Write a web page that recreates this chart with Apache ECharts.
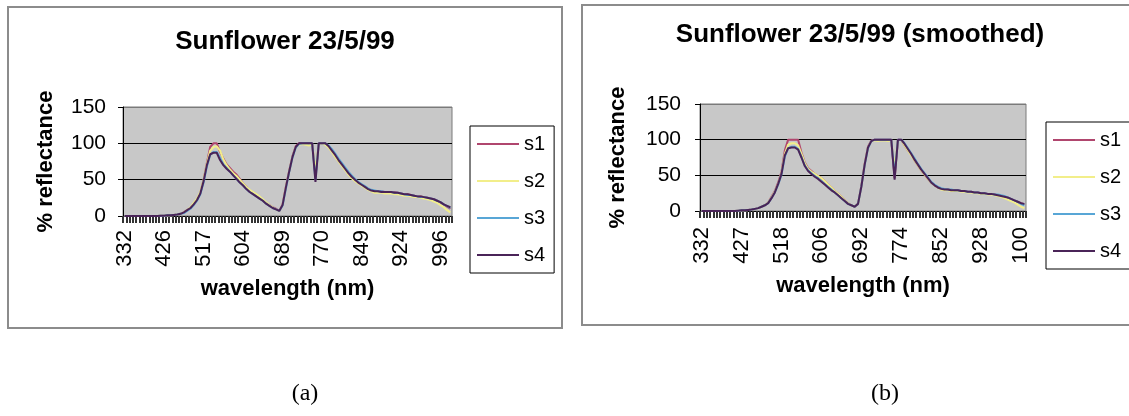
<!DOCTYPE html>
<html>
<head>
<meta charset="utf-8">
<script src="https://cdn.jsdelivr.net/npm/echarts@6/dist/echarts.min.js"></script>
<style>
html, body { margin: 0; padding: 0; background: #fff; }
#main { width: 1129px; height: 416px; }
</style>
</head>
<body>
<div id="main"></div>
<script>
var chartDom = document.getElementById('main');
var myChart = echarts.init(chartDom);
var option;

var seriesNames = ['s1', 's2', 's3', 's4'];
var seriesColors = ['#b0466e', '#f2ee8a', '#58a6d6', '#4a2458'];

// x tick labels (one every 12 categories)
var tickLabelsA = ['332', '426', '517', '604', '689', '770', '849', '924', '996'];
var tickLabelsB = ['332', '427', '518', '606', '692', '774', '852', '928', '100'];
var labelStep = 12;

// (a) raw spectra, % reflectance
var a_s1 = [0,0,0,0,0,0,0,0,0,0,
  0,0.5,0.5,1,1,1.5,2,3,5,8,
  11,17,23,32,50,73,95,100,100,88,
  79,71,66,61,57,51,45,40,35,31,
  28,25,22,18,15,12,10,7,16,40,
  62,82,96,100,100,100,100,100,55,100,
  100,100,95,89,82,76,70,64,58,53,
  49,46,43,40,37,35,34,34,34,33,
  33,33,33,32,31,30,30,29,28,27,
  27,26,25,24,23,21,18,16,13,10];
var a_s2 = [0,0,0,0,0,0,0,0,0,0,
  0,0.5,0.5,1,1,1.5,2,3,5,8,
  12,18,24,33,50,72,90,95,96,90,
  78,70,64,59,55,50,45,40,36,33,
  30,27,23,19,15,12,9,7,15,39,
  61,81,95,98,99,98,97,99,62,99,
  100,98,94,88,81,75,69,63,57,52,
  48,45,42,39,36,34,32,32,32,31,
  31,31,30,30,29,28,28,27,26,26,
  25,24,23,22,20,18,15,12,8,5];
var a_s3 = [0,0,0,0,0,0,0,0,0,0,
  0,0.5,0.5,1,1,1.5,2,3,4,7,
  10,15,21,30,46,68,84,88,88,80,
  71,66,61,56,51,46,42,37,33,30,
  27,24,21,17,14,11,9,7,14,37,
  60,80,94,99,100,100,100,100,50,100,
  100,100,97,92,86,79,73,67,61,56,
  51,47,44,41,38,36,35,34,34,33,
  33,33,32,32,31,30,29,29,28,27,
  26,26,25,24,23,21,19,16,14,11];
var a_s4 = [0,0,0,0,0,0,0,0,0,0,
  0,0.5,0.5,1,1,1.5,2,3,5,8,
  11,16,22,31,48,70,85,87,87,77,
  70,65,61,56,51,46,42,37,33,30,
  27,24,21,17,14,11,9,7,15,39,
  61,81,95,100,100,100,100,100,47,100,
  100,100,96,90,84,77,71,65,59,54,
  50,46,43,40,37,35,34,34,33,33,
  33,33,32,32,31,30,30,29,28,27,
  27,26,25,24,23,21,19,16,14,12];

// (b) smoothed spectra, % reflectance
var b_s1 = [0,0,0,0,0,0,0,0,0,0,
  0,0.5,1,1,1.5,2,3,4,6,8,
  12,20,28,40,55,85,100,100,100,100,
  82,68,60,56,52,49,46,42,37,33,
  28,24,20,15,11,8,6,10,35,66,
  90,99,100,100,100,100,100,100,46,100,
  100,92,85,79,71,64,57,51,45,40,
  36,33,31,30,30,29,29,29,28,28,
  27,27,26,26,25,25,24,24,23,22,
  21,20,18,17,15,13,11,9];
var b_s2 = [0,0,0,0,0,0,0,0,0,0,
  0,0.5,1,1,1.5,2,3,4,6,8,
  12,19,27,38,53,80,93,95,95,92,
  80,67,59,55,52,49,46,42,37,33,
  28,24,20,15,11,8,6,10,34,65,
  89,98,99,98,99,99,98,99,60,99,
  100,92,85,78,71,64,57,51,45,40,
  36,33,30,29,29,28,28,28,27,27,
  26,26,25,25,24,24,23,23,22,21,
  20,18,16,14,12,9,6,4];
var b_s3 = [0,0,0,0,0,0,0,0,0,0,
  0,0.5,1,1,1.5,2,3,4,6,8,
  11,18,26,37,51,76,88,90,90,87,
  76,64,57,53,49,46,42,38,34,30,
  26,22,18,14,10,8,6,10,34,64,
  88,98,100,100,100,100,100,100,50,100,
  100,95,88,81,74,66,59,53,47,41,
  37,34,32,31,30,30,29,29,28,28,
  27,27,26,26,25,25,24,24,23,23,
  22,21,19,17,15,13,10,8];
var b_s4 = [0,0,0,0,0,0,0,0,0,0,
  0,0.5,1,1,1.5,2,3,4,6,8,
  11,18,26,38,52,78,88,89,89,86,
  75,63,56,52,48,45,41,37,33,29,
  26,22,18,14,10,8,6,10,34,65,
  89,98,100,100,100,100,100,100,44,100,
  100,94,87,80,72,65,58,52,46,40,
  36,33,31,30,30,29,29,29,28,28,
  27,27,26,26,25,25,24,24,23,22,
  21,20,19,17,15,13,11,10];

var FONT = 'Liberation Sans, Arial, sans-serif';

function categories(values, labels) {
    return values.map(function (v, i) {
        return i % labelStep === 0 ? (labels[i / labelStep] || '') : '';
    });
}

function lines(list, gi) {
    return list.map(function (d, k) {
        return {
            name: seriesNames[k],
            type: 'line',
            xAxisIndex: gi,
            yAxisIndex: gi,
            data: d,
            symbol: 'none',
            lineStyle: {width: 2, color: seriesColors[k]},
            itemStyle: {color: seriesColors[k]}
        };
    });
}

function xAxisFor(gi, cats, labelMargin, nameGap) {
    return {
        type: 'category',
        gridIndex: gi,
        data: cats,
        boundaryGap: true,
        axisLine: {show: true, onZero: false, lineStyle: {color: '#000', width: 1}},
        axisTick: {show: true, interval: 0, length: 7, lineStyle: {color: '#333', width: 2}},
        axisLabel: {interval: labelStep - 1, rotate: 90, fontSize: 22, margin: labelMargin, color: '#000', fontFamily: FONT},
        splitLine: {show: false},
        name: 'wavelength (nm)',
        nameLocation: 'middle',
        nameGap: nameGap,
        nameTextStyle: {fontSize: 22, fontWeight: 'bold', color: '#000', fontFamily: FONT}
    };
}

function yAxisFor(gi, labelMargin, nameGap) {
    return {
        type: 'value',
        gridIndex: gi,
        min: 0,
        max: 150,
        interval: 50,
        axisLine: {show: true, lineStyle: {color: '#000', width: 1}},
        axisTick: {show: true, length: 5, lineStyle: {color: '#000'}},
        axisLabel: {fontSize: 21, margin: labelMargin, color: '#000', fontFamily: FONT},
        splitLine: {show: true, lineStyle: {color: ['#000', '#000', '#000', '#7a7a7a'], width: 1}},
        name: '% reflectance',
        nameLocation: 'middle',
        nameRotate: 90,
        nameGap: nameGap,
        nameTextStyle: {fontSize: 22, fontWeight: 'bold', color: '#000', fontFamily: FONT}
    };
}

function legendFor(left, top) {
    return {
        orient: 'vertical',
        left: left,
        top: top,
        data: seriesNames,
        icon: 'rect',
        itemWidth: 42,
        itemHeight: 2,
        itemGap: 17,
        padding: [8, 9, 8, 7],
        borderColor: '#000',
        borderWidth: 1,
        backgroundColor: '#fff',
        selectedMode: false,
        textStyle: {fontSize: 20, lineHeight: 20, color: '#000', fontFamily: FONT}
    };
}

option = {
    animation: false,
    backgroundColor: '#fff',
    title: [
        {text: 'Sunflower 23/5/99', left: 285, top: 29, textAlign: 'center', padding: 0,
         textStyle: {fontSize: 26, fontWeight: 'bold', color: '#000', fontFamily: FONT}},
        {text: 'Sunflower 23/5/99 (smoothed)', left: 860, top: 22, textAlign: 'center', padding: 0,
         textStyle: {fontSize: 26, fontWeight: 'bold', color: '#000', fontFamily: FONT}}
    ],
    grid: [
        {left: 123, top: 107, width: 329, height: 109, show: true, backgroundColor: '#c8c8c8', borderColor: '#7a7a7a', borderWidth: 1},
        {left: 700, top: 104, width: 326, height: 107, show: true, backgroundColor: '#c8c8c8', borderColor: '#7a7a7a', borderWidth: 1}
    ],
    xAxis: [
        xAxisFor(0, categories(a_s1, tickLabelsA), 14, 62),
        xAxisFor(1, categories(b_s1, tickLabelsB), 16, 64)
    ],
    yAxis: [
        yAxisFor(0, 17, 66),
        yAxisFor(1, 19, 71)
    ],
    legend: [
        legendFor(470, 126),
        legendFor(1046, 122)
    ],
    graphic: [
        {type: 'rect', silent: true, z: -10, shape: {x: 8, y: 7, width: 554, height: 321},
         style: {fill: 'none', stroke: '#8c8c8c', lineWidth: 2}},
        {type: 'rect', silent: true, z: -10, shape: {x: 582, y: 5, width: 580, height: 320},
         style: {fill: 'none', stroke: '#8c8c8c', lineWidth: 2}},
        {type: 'text', x: 305, y: 394, style: {text: '(a)', font: '24px "Liberation Serif", serif', fill: '#000', align: 'center', verticalAlign: 'middle'}},
        {type: 'text', x: 885, y: 394, style: {text: '(b)', font: '24px "Liberation Serif", serif', fill: '#000', align: 'center', verticalAlign: 'middle'}}
    ],
    series: lines([a_s1, a_s2, a_s3, a_s4], 0).concat(lines([b_s1, b_s2, b_s3, b_s4], 1))
};

option && myChart.setOption(option);
</script>
</body>
</html>
